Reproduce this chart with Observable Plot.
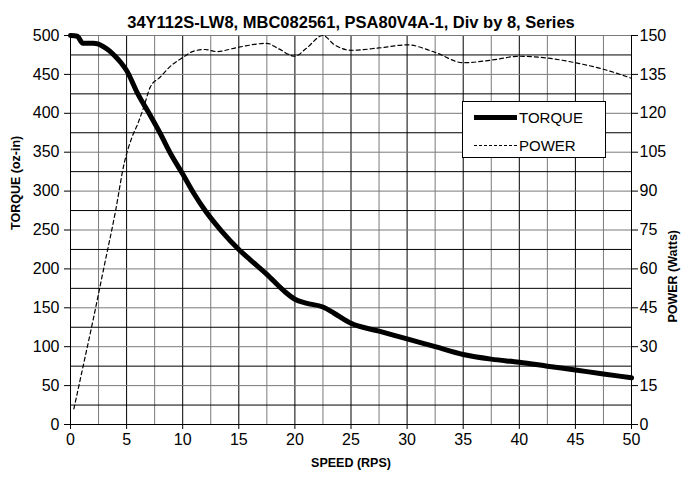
<!DOCTYPE html>
<html><head><meta charset="utf-8">
<script src="https://cdn.jsdelivr.net/npm/d3@7"></script>
<script src="https://cdn.jsdelivr.net/npm/@observablehq/plot@0.6"></script>
<style>
body{margin:0;background:#fff;font-family:"Liberation Sans",Arial,sans-serif;}
#wrap{position:relative;width:681px;height:477px;}
#legend{position:absolute;left:462px;top:101px;width:142px;height:55px;border:1px solid #000;background:#fff;font-size:15px;}
.row{position:absolute;left:11px;height:20px;display:flex;align-items:center;}
.sw{width:43px;height:0;margin-right:2px;}
</style></head>
<body><div id="wrap"></div>
<script>
const title = "34Y112S-LW8, MBC082561, PSA80V4A-1, Div by 8, Series";
const xLabel = "SPEED (RPS)";
const yLabel = "TORQUE (oz-in)";
const y2Label = "POWER (Watts)";
const torqueSpeed = [0,0.6,1.1,1.5,2,2.5,3,3.5,4,4.5,5,6,7,8,9,10,11,12,13.5,15,16,17.5,19,20,21,22.5,23.5,25,27.5,30,32.5,35,37.5,40,42.5,45,47.5,50];
const torque = [500,499,490,490,490,489,485,480,473,465,455,425,400,374,346,322,297,275,248,225,212,193,172,161,156,151,143,130,120,110,100,90,84,80,75,70,65,60];
const powerSpeed = [0.3,1,2,3,4,4.8,5.5,6,6.5,7.1,8,9,10,11,12,13,15,17.5,18.5,20,21,22.5,23.5,25,27.5,30,32.5,35,37.5,40,42.5,45,47.5,50];
const power = [6,20,40,61,82,101,111,116,122,130,134,138.5,141.5,144,144.6,143.8,145.5,147,145,142,145,150,146.5,144.3,145.2,146.4,143.5,139.5,140.5,142,141.3,139.5,137,133.5];
const xTicks = [0,5,10,15,20,25,30,35,40,45,50];
const yTicks = [0,50,100,150,200,250,300,350,400,450,500];
const powerTicks = [0,15,30,45,60,75,90,105,120,135,150];
const gridX = d3.range(0,50.01,2.5);
const gridY = d3.range(0,500.01,25);

const k = 500/150;
const tData = torqueSpeed.map((s,i)=>({s, v: torque[i]}));
const pData = powerSpeed.map((s,i)=>({s, v: power[i]*k}));

const chart = Plot.plot({
  width: 681, height: 477,
  marginLeft: 70, marginRight: 50, marginTop: 35, marginBottom: 53,
  x: {domain: [0,50]},
  y: {domain: [0,500]},
  style: {fontFamily: "'Liberation Sans', Arial, sans-serif", fontSize: "16px", color: "#000", background: "#fff", overflow: "visible"},
  marks: [
    Plot.ruleX(gridX.filter(d => d % 5 !== 0), {stroke: "#7a7a7a"}),
    Plot.ruleX(gridX.filter(d => d % 5 === 0), {stroke: "#000"}),
    Plot.ruleY(gridY.filter(d => d % 50 === 0), {stroke: "#7a7a7a"}),
    Plot.ruleY(gridY.filter(d => d % 50 !== 0), {stroke: "#000"}),
    Plot.ruleX([0,50], {stroke: "#000"}),
    Plot.ruleY([0], {stroke: "#000"}),
    Plot.axisX({ticks: xTicks, tickSize: 5, tickPadding: 4, label: null, fontSize: 16}),
    Plot.axisY({ticks: yTicks, tickSize: 6, tickPadding: 5, label: null, fontSize: 16}),
    Plot.axisY({anchor: "right", ticks: powerTicks.map(p => p*k), tickFormat: d => Math.round(d/k), tickSize: 6, tickPadding: 2, label: null, fontSize: 16}),
    Plot.line(pData, {x: "s", y: "v", stroke: "#000", strokeWidth: 1.2, strokeDasharray: "4,3", curve: "monotone-x"}),
    Plot.line(tData, {x: "s", y: "v", stroke: "#000", strokeWidth: 5, curve: "monotone-x"}),
    Plot.text([title], {frameAnchor: "top", dy: -19, fontWeight: "bold", fontSize: 16.5}),
    Plot.text([xLabel], {frameAnchor: "bottom", dy: 42, fontWeight: "bold", fontSize: 12.5}),
    Plot.text([yLabel], {frameAnchor: "left", dx: -55, rotate: -90, fontWeight: "bold", fontSize: 12.5}),
    Plot.text([y2Label], {frameAnchor: "right", dx: 41, rotate: -90, fontWeight: "bold", fontSize: 12.5})
  ]
});
const wrap = document.getElementById("wrap");
wrap.appendChild(chart);
const lg = document.createElement("div");
lg.id = "legend";
lg.innerHTML = '<div class="row" style="top:5px"><div class="sw" style="border-top:5px solid #000"></div><span>TORQUE</span></div>' +
  '<div class="row" style="top:33px"><div class="sw" style="border-top:1.2px dashed #000"></div><span>POWER</span></div>';
wrap.appendChild(lg);
</script></body></html>
